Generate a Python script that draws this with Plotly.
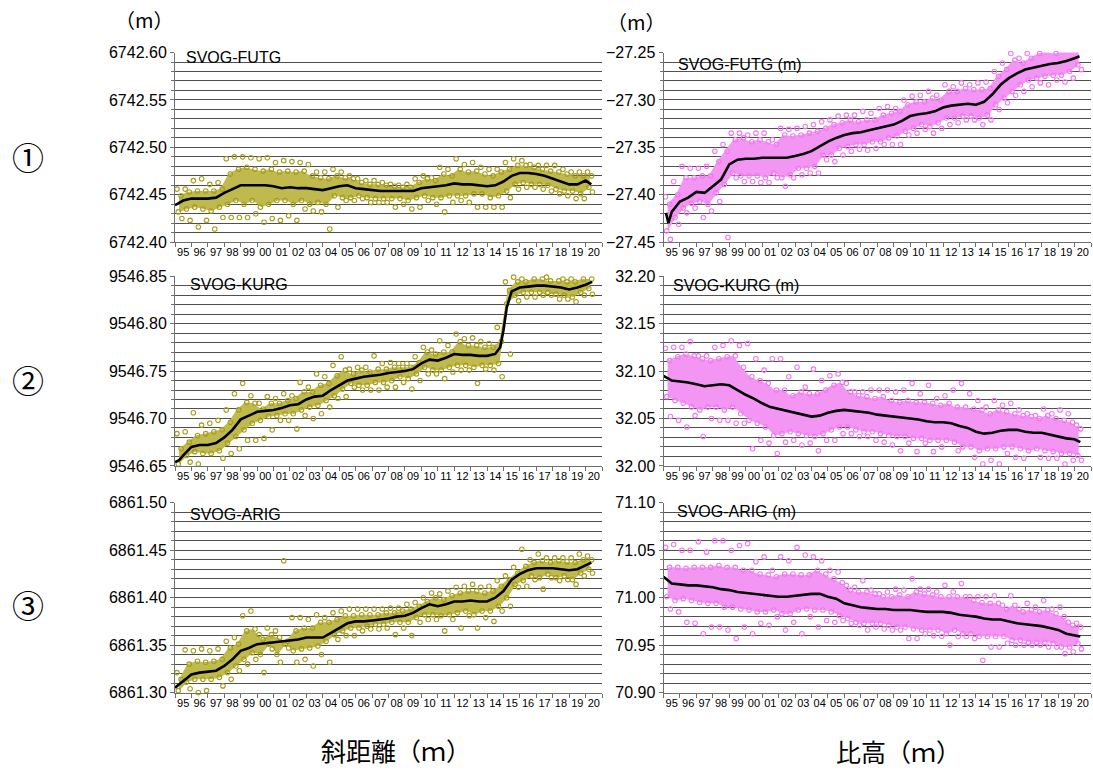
import plotly.graph_objects as go

# ---------------- data ----------------
YEAR_LABELS = ["95", "96", "97", "98", "99", "00", "01", "02", "03", "04", "05", "06", "07",
               "08", "09", "10", "11", "12", "13", "14", "15", "16", "17", "18", "19", "20"]
YEAR_CENTERS = [1995.5 + i for i in range(26)]
BIN_START = [1995.0 + 0.5 * i for i in range(51)]          # half-year bins
TREND_T = [1995.0 + 0.5 * i for i in range(51)] + [2020.35]

# ---- (1) SVOG-FUTG slant distance ----
LT_TREND = [6742.439, 6742.444, 6742.446, 6742.446, 6742.446, 6742.447, 6742.452, 6742.456, 6742.460, 6742.460,
            6742.460, 6742.460, 6742.459, 6742.457, 6742.458, 6742.457, 6742.457, 6742.456, 6742.455, 6742.457,
            6742.459, 6742.460, 6742.457, 6742.456, 6742.455, 6742.454, 6742.454, 6742.454, 6742.454, 6742.454,
            6742.457, 6742.458, 6742.459, 6742.460, 6742.462, 6742.461, 6742.461, 6742.460, 6742.459, 6742.460,
            6742.464, 6742.470, 6742.473, 6742.473, 6742.472, 6742.470, 6742.467, 6742.464, 6742.461, 6742.461,
            6742.465, 6742.461]
LT_EXT_HI = [6742.456, 6742.456, 6742.465, 6742.467, 6742.461, 6742.463, 6742.488, 6742.490, 6742.490, 6742.489,
             6742.488, 6742.489, 6742.484, 6742.486, 6742.485, 6742.484, 6742.482, 6742.474, 6742.474, 6742.477,
             6742.474, 6742.470, 6742.467, 6742.465, 6742.465, 6742.463, 6742.461, 6742.460, 6742.461, 6742.467,
             6742.470, 6742.468, 6742.479, 6742.477, 6742.488, 6742.482, 6742.484, 6742.479, 6742.477, 6742.477,
             6742.484, 6742.488, 6742.486, 6742.482, 6742.481, 6742.481, 6742.481, 6742.477, 6742.474, 6742.474,
             6742.474]
LT_CORE_HI = [6742.449, 6742.453, 6742.454, 6742.454, 6742.454, 6742.456, 6742.472, 6742.477, 6742.479, 6742.477,
              6742.475, 6742.477, 6742.474, 6742.475, 6742.474, 6742.475, 6742.470, 6742.468, 6742.467, 6742.470,
              6742.468, 6742.467, 6742.463, 6742.461, 6742.461, 6742.460, 6742.459, 6742.458, 6742.458, 6742.463,
              6742.467, 6742.465, 6742.472, 6742.470, 6742.477, 6742.474, 6742.475, 6742.472, 6742.470, 6742.474,
              6742.477, 6742.481, 6742.481, 6742.479, 6742.477, 6742.475, 6742.474, 6742.472, 6742.470, 6742.470,
              6742.470]
LT_CORE_LO = [6742.432, 6742.435, 6742.437, 6742.435, 6742.433, 6742.437, 6742.440, 6742.444, 6742.440, 6742.444,
              6742.437, 6742.440, 6742.444, 6742.444, 6742.440, 6742.444, 6742.440, 6742.442, 6742.440, 6742.449,
              6742.447, 6742.447, 6742.449, 6742.447, 6742.446, 6742.446, 6742.446, 6742.446, 6742.444, 6742.447,
              6742.449, 6742.447, 6742.447, 6742.449, 6742.449, 6742.449, 6742.451, 6742.451, 6742.447, 6742.449,
              6742.454, 6742.461, 6742.463, 6742.461, 6742.461, 6742.460, 6742.456, 6742.454, 6742.454, 6742.451,
              6742.458]
LT_EXT_LO = [6742.425, 6742.423, 6742.416, 6742.423, 6742.414, 6742.426, 6742.426, 6742.426, 6742.426, 6742.430,
             6742.421, 6742.425, 6742.423, 6742.428, 6742.423, 6742.435, 6742.433, 6742.432, 6742.414, 6742.437,
             6742.444, 6742.444, 6742.446, 6742.442, 6742.442, 6742.442, 6742.437, 6742.440, 6742.435, 6742.437,
             6742.444, 6742.440, 6742.432, 6742.442, 6742.444, 6742.442, 6742.437, 6742.437, 6742.437, 6742.437,
             6742.447, 6742.456, 6742.458, 6742.458, 6742.456, 6742.454, 6742.451, 6742.449, 6742.446, 6742.446,
             6742.453]

# ---- (2) SVOG-KURG slant distance ----
LM_TREND_T = [1995.0, 1995.25, 1995.5, 1996.0, 1996.5, 1997.0, 1997.5, 1998.0, 1998.5, 1999.0, 1999.5,
              2000.0, 2000.5, 2001.0, 2001.5, 2002.0, 2002.5, 2003.0, 2003.5, 2004.0, 2004.5,
              2005.0, 2005.5, 2006.0, 2006.5, 2007.0, 2007.5, 2008.0, 2008.5, 2009.0, 2009.5,
              2010.0, 2010.5, 2011.0, 2011.5, 2012.0, 2012.5, 2013.0, 2013.5, 2014.0, 2014.5,
              2014.8, 2015.0, 2015.2, 2015.5, 2016.0, 2016.5, 2017.0, 2017.5, 2018.0, 2018.5,
              2019.0, 2019.5, 2020.0, 2020.4]
LM_TREND = [9546.654, 9546.656, 9546.661, 9546.670, 9546.672, 9546.672, 9546.674, 9546.680, 9546.688, 9546.699,
            9546.703, 9546.707, 9546.708, 9546.709, 9546.711, 9546.714, 9546.715, 9546.720, 9546.723, 9546.724,
            9546.730, 9546.735, 9546.740, 9546.742, 9546.744, 9546.745, 9546.746, 9546.748, 9546.749, 9546.750,
            9546.752, 9546.758, 9546.762, 9546.761, 9546.764, 9546.768, 9546.767, 9546.767, 9546.766, 9546.766,
            9546.768, 9546.775, 9546.793, 9546.817, 9546.834, 9546.838, 9546.839, 9546.840, 9546.840, 9546.839,
            9546.838, 9546.836, 9546.838, 9546.841, 9546.844]
LM_EXT_HI = [9546.684, 9546.686, 9546.706, 9546.693, 9546.695, 9546.698, 9546.709, 9546.726, 9546.737, 9546.724,
             9546.716, 9546.723, 9546.721, 9546.726, 9546.724, 9546.738, 9546.733, 9546.747, 9546.744, 9546.756,
             9546.765, 9546.752, 9546.754, 9546.754, 9546.766, 9546.758, 9546.759, 9546.758, 9546.758, 9546.765,
             9546.775, 9546.772, 9546.782, 9546.777, 9546.789, 9546.784, 9546.785, 9546.781, 9546.779, 9546.796,
             9546.844, 9546.849, 9546.847, 9546.853, 9546.851, 9546.849, 9546.852, 9546.847, 9546.847, 9546.854,
             9546.851]
LM_CORE_HI = [9546.668, 9546.675, 9546.682, 9546.684, 9546.686, 9546.688, 9546.696, 9546.709, 9546.717, 9546.716,
              9546.710, 9546.716, 9546.716, 9546.719, 9546.721, 9546.728, 9546.728, 9546.735, 9546.737, 9546.745,
              9546.751, 9546.747, 9546.751, 9546.749, 9546.752, 9546.752, 9546.754, 9546.754, 9546.754, 9546.759,
              9546.770, 9546.768, 9546.770, 9546.770, 9546.781, 9546.777, 9546.777, 9546.775, 9546.775, 9546.781,
              9546.835, 9546.844, 9546.844, 9546.847, 9546.847, 9546.845, 9546.845, 9546.844, 9546.844, 9546.847,
              9546.847]
LM_CORE_LO = [9546.652, 9546.661, 9546.665, 9546.663, 9546.663, 9546.666, 9546.674, 9546.681, 9546.688, 9546.695,
              9546.698, 9546.702, 9546.703, 9546.705, 9546.705, 9546.709, 9546.712, 9546.714, 9546.719, 9546.724,
              9546.731, 9546.737, 9546.735, 9546.735, 9546.738, 9546.738, 9546.740, 9546.744, 9546.742, 9546.747,
              9546.754, 9546.751, 9546.751, 9546.754, 9546.756, 9546.756, 9546.754, 9546.756, 9546.756, 9546.758,
              9546.821, 9546.830, 9546.833, 9546.833, 9546.833, 9546.833, 9546.831, 9546.830, 9546.828, 9546.833,
              9546.837]
LM_EXT_LO = [9546.649, 9546.654, 9546.652, 9546.649, 9546.649, 9546.658, 9546.663, 9546.668, 9546.677, 9546.677,
             9546.679, 9546.688, 9546.698, 9546.698, 9546.689, 9546.703, 9546.700, 9546.705, 9546.712, 9546.721,
             9546.723, 9546.733, 9546.730, 9546.730, 9546.730, 9546.733, 9546.733, 9546.738, 9546.731, 9546.740,
             9546.747, 9546.747, 9546.742, 9546.749, 9546.751, 9546.751, 9546.737, 9546.752, 9546.751, 9546.744,
             9546.768, 9546.824, 9546.828, 9546.828, 9546.830, 9546.830, 9546.826, 9546.826, 9546.823, 9546.830,
             9546.831]

# ---- (3) SVOG-ARIG slant distance ----
LB_TREND = [6861.305, 6861.312, 6861.319, 6861.321, 6861.322, 6861.323, 6861.328, 6861.335, 6861.344, 6861.347,
            6861.351, 6861.352, 6861.353, 6861.354, 6861.355, 6861.356, 6861.358, 6861.358, 6861.358, 6861.363,
            6861.368, 6861.373, 6861.375, 6861.375, 6861.376, 6861.377, 6861.378, 6861.380, 6861.381, 6861.384,
            6861.389, 6861.393, 6861.391, 6861.393, 6861.396, 6861.396, 6861.397, 6861.396, 6861.396, 6861.400,
            6861.407, 6861.419, 6861.425, 6861.429, 6861.431, 6861.431, 6861.431, 6861.430, 6861.429, 6861.430,
            6861.434, 6861.437]
LB_EXT_HI = [6861.321, 6861.345, 6861.344, 6861.346, 6861.344, 6861.346, 6861.354, 6861.358, 6861.381, 6861.386,
             6861.361, 6861.368, 6861.365, 6861.439, 6861.379, 6861.379, 6861.377, 6861.382, 6861.379, 6861.384,
             6861.386, 6861.388, 6861.388, 6861.388, 6861.388, 6861.388, 6861.389, 6861.389, 6861.393, 6861.395,
             6861.400, 6861.405, 6861.404, 6861.407, 6861.411, 6861.412, 6861.414, 6861.411, 6861.412, 6861.418,
             6861.423, 6861.432, 6861.451, 6861.440, 6861.446, 6861.442, 6861.442, 6861.442, 6861.442, 6861.446,
             6861.444]
LB_CORE_HI = [6861.314, 6861.330, 6861.333, 6861.332, 6861.333, 6861.335, 6861.347, 6861.351, 6861.365, 6861.367,
              6861.356, 6861.361, 6861.358, 6861.354, 6861.365, 6861.368, 6861.368, 6861.374, 6861.374, 6861.377,
              6861.381, 6861.381, 6861.382, 6861.382, 6861.382, 6861.384, 6861.384, 6861.386, 6861.388, 6861.391,
              6861.396, 6861.400, 6861.398, 6861.402, 6861.405, 6861.407, 6861.407, 6861.405, 6861.407, 6861.412,
              6861.419, 6861.426, 6861.433, 6861.437, 6861.439, 6861.437, 6861.439, 6861.438, 6861.437, 6861.440,
              6861.440]
LB_CORE_LO = [6861.302, 6861.311, 6861.314, 6861.314, 6861.314, 6861.316, 6861.321, 6861.328, 6861.335, 6861.342,
              6861.340, 6861.351, 6861.340, 6861.351, 6861.344, 6861.346, 6861.347, 6861.349, 6861.354, 6861.361,
              6861.365, 6861.368, 6861.368, 6861.370, 6861.372, 6861.372, 6861.374, 6861.374, 6861.374, 6861.379,
              6861.382, 6861.382, 6861.381, 6861.382, 6861.384, 6861.386, 6861.382, 6861.386, 6861.386, 6861.391,
              6861.400, 6861.414, 6861.418, 6861.423, 6861.421, 6861.425, 6861.421, 6861.423, 6861.419, 6861.426,
              6861.430]
LB_EXT_LO = [6861.298, 6861.304, 6861.300, 6861.302, 6861.298, 6861.307, 6861.314, 6861.323, 6861.330, 6861.335,
             6861.321, 6861.346, 6861.332, 6861.347, 6861.332, 6861.335, 6861.328, 6861.340, 6861.332, 6861.356,
             6861.360, 6861.360, 6861.365, 6861.367, 6861.367, 6861.368, 6861.361, 6861.368, 6861.360, 6861.374,
             6861.377, 6861.377, 6861.365, 6861.377, 6861.368, 6861.381, 6861.368, 6861.379, 6861.375, 6861.386,
             6861.391, 6861.411, 6861.412, 6861.419, 6861.409, 6861.421, 6861.418, 6861.419, 6861.414, 6861.423,
             6861.426]

# ---- (1) SVOG-FUTG height difference ----
RT_TREND_T = [1995.15, 1995.3, 1995.5] + [1996.0 + 0.5 * i for i in range(49)] + [2020.3]
RT_TREND = [-27.419, -27.430, -27.418,
            -27.407, -27.403, -27.397, -27.398, -27.391, -27.384, -27.368, -27.363,
            -27.362, -27.362, -27.361, -27.361, -27.361, -27.361, -27.359, -27.357, -27.354, -27.349,
            -27.344, -27.340, -27.337, -27.335, -27.334, -27.332, -27.330, -27.328, -27.326, -27.322,
            -27.317, -27.315, -27.314, -27.312, -27.308, -27.306, -27.305, -27.304, -27.305, -27.302,
            -27.294, -27.284, -27.277, -27.272, -27.268, -27.266, -27.264, -27.262, -27.261, -27.259,
            -27.256, -27.254]
RT_EXT_HI = [-27.402, -27.386, -27.370, -27.372, -27.372, -27.370, -27.354, -27.347, -27.335, -27.335,
             -27.337, -27.335, -27.335, -27.342, -27.330, -27.331, -27.330, -27.328, -27.326, -27.323,
             -27.321, -27.317, -27.316, -27.316, -27.312, -27.314, -27.309, -27.307, -27.309, -27.300,
             -27.296, -27.295, -27.291, -27.295, -27.284, -27.286, -27.282, -27.284, -27.282, -27.281,
             -27.270, -27.261, -27.251, -27.256, -27.251, -27.244, -27.242, -27.245, -27.242, -27.244,
             -27.244]
RT_CORE_HI = [-27.410, -27.400, -27.382, -27.382, -27.380, -27.380, -27.365, -27.354, -27.342, -27.340,
              -27.344, -27.342, -27.344, -27.347, -27.337, -27.338, -27.337, -27.335, -27.333, -27.330,
              -27.326, -27.324, -27.321, -27.323, -27.321, -27.321, -27.316, -27.314, -27.312, -27.305,
              -27.302, -27.302, -27.298, -27.300, -27.291, -27.291, -27.288, -27.289, -27.289, -27.288,
              -27.275, -27.268, -27.258, -27.261, -27.256, -27.251, -27.249, -27.251, -27.249, -27.247,
              -27.247]
RT_CORE_LO = [-27.438, -27.424, -27.414, -27.409, -27.407, -27.410, -27.398, -27.389, -27.377, -27.380,
              -27.380, -27.380, -27.382, -27.377, -27.382, -27.379, -27.372, -27.372, -27.370, -27.358,
              -27.358, -27.351, -27.349, -27.347, -27.347, -27.344, -27.344, -27.340, -27.338, -27.333,
              -27.330, -27.326, -27.328, -27.324, -27.319, -27.319, -27.317, -27.317, -27.319, -27.316,
              -27.305, -27.298, -27.291, -27.284, -27.279, -27.277, -27.275, -27.274, -27.274, -27.270,
              -27.263]
RT_EXT_LO = [-27.447, -27.431, -27.419, -27.414, -27.424, -27.417, -27.407, -27.445, -27.382, -27.386,
             -27.386, -27.387, -27.387, -27.382, -27.391, -27.382, -27.379, -27.377, -27.377, -27.363,
             -27.365, -27.358, -27.354, -27.352, -27.353, -27.351, -27.347, -27.347, -27.347, -27.337,
             -27.335, -27.331, -27.335, -27.330, -27.326, -27.324, -27.321, -27.321, -27.326, -27.321,
             -27.310, -27.303, -27.295, -27.291, -27.286, -27.282, -27.284, -27.279, -27.281, -27.277,
             -27.268]

# ---- (2) SVOG-KURG height difference ----
RM_TREND = [32.095, 32.090, 32.089, 32.088, 32.086, 32.084, 32.085, 32.086, 32.085, 32.080,
            32.075, 32.071, 32.066, 32.062, 32.060, 32.058, 32.056, 32.054, 32.052, 32.053,
            32.056, 32.058, 32.059, 32.058, 32.057, 32.056, 32.054, 32.053, 32.052, 32.051,
            32.050, 32.049, 32.047, 32.046, 32.046, 32.045, 32.042, 32.040, 32.036, 32.034,
            32.035, 32.037, 32.038, 32.038, 32.036, 32.035, 32.035, 32.033, 32.031, 32.029,
            32.028, 32.025]
RM_EXT_HI = [32.124, 32.125, 32.125, 32.131, 32.116, 32.116, 32.125, 32.127, 32.132, 32.127,
             32.129, 32.113, 32.101, 32.113, 32.113, 32.094, 32.104, 32.083, 32.102, 32.090,
             32.095, 32.097, 32.087, 32.078, 32.078, 32.080, 32.080, 32.080, 32.078, 32.080,
             32.087, 32.076, 32.085, 32.071, 32.074, 32.080, 32.087, 32.076, 32.069, 32.062,
             32.069, 32.064, 32.066, 32.059, 32.055, 32.053, 32.060, 32.055, 32.059, 32.055,
             32.043]
RM_CORE_HI = [32.111, 32.115, 32.118, 32.116, 32.113, 32.111, 32.113, 32.115, 32.116, 32.104,
              32.094, 32.090, 32.087, 32.080, 32.080, 32.074, 32.078, 32.076, 32.076, 32.080,
              32.085, 32.088, 32.078, 32.074, 32.073, 32.071, 32.073, 32.069, 32.067, 32.069,
              32.067, 32.067, 32.066, 32.064, 32.066, 32.062, 32.062, 32.060, 32.059, 32.055,
              32.059, 32.057, 32.055, 32.053, 32.052, 32.050, 32.053, 32.050, 32.048, 32.046,
              32.039]
RM_CORE_LO = [32.073, 32.069, 32.066, 32.062, 32.059, 32.062, 32.062, 32.059, 32.062, 32.055,
              32.048, 32.045, 32.041, 32.032, 32.034, 32.036, 32.034, 32.032, 32.031, 32.034,
              32.038, 32.041, 32.041, 32.038, 32.036, 32.036, 32.034, 32.032, 32.031, 32.031,
              32.029, 32.029, 32.027, 32.027, 32.027, 32.025, 32.020, 32.020, 32.016, 32.018,
              32.018, 32.020, 32.020, 32.018, 32.016, 32.018, 32.016, 32.015, 32.013, 32.013,
              32.011]
RM_EXT_LO = [32.052, 32.048, 32.041, 32.053, 32.031, 32.050, 32.048, 32.048, 32.045, 32.045,
             32.018, 32.027, 32.024, 32.013, 32.025, 32.027, 32.022, 32.024, 32.016, 32.027,
             32.027, 32.034, 32.034, 32.031, 32.031, 32.027, 32.025, 32.022, 32.016, 32.024,
             32.015, 32.024, 32.015, 32.020, 31.999, 32.016, 31.999, 32.009, 32.002, 32.006,
             32.002, 32.013, 32.009, 32.008, 31.995, 32.009, 32.008, 32.008, 32.002, 32.006,
             32.006]

# ---- (3) SVOG-ARIG height difference ----
RB_TREND = [71.022, 71.015, 71.014, 71.013, 71.013, 71.012, 71.011, 71.009, 71.008, 71.006,
            71.005, 71.004, 71.003, 71.002, 71.001, 71.001, 71.002, 71.003, 71.004, 71.004,
            71.001, 70.999, 70.994, 70.992, 70.990, 70.989, 70.988, 70.988, 70.987, 70.987,
            70.987, 70.986, 70.985, 70.985, 70.985, 70.984, 70.982, 70.981, 70.980, 70.978,
            70.977, 70.977, 70.975, 70.973, 70.972, 70.971, 70.970, 70.968, 70.966, 70.962,
            70.960, 70.959]
RB_EXT_HI = [71.053, 71.056, 71.050, 71.050, 71.059, 71.048, 71.060, 71.060, 71.050, 71.055,
             71.057, 71.038, 71.043, 71.029, 71.043, 71.039, 71.053, 71.045, 71.043, 71.039,
             71.029, 71.027, 71.013, 71.011, 71.018, 71.008, 71.004, 71.006, 71.009, 71.008,
             71.020, 71.009, 71.009, 71.006, 71.013, 71.006, 71.015, 71.001, 71.001, 71.001,
             71.002, 70.992, 71.002, 70.988, 70.994, 70.990, 70.997, 70.988, 70.990, 70.974,
             70.973]
RB_CORE_HI = [71.032, 71.032, 71.031, 71.032, 71.032, 71.032, 71.034, 71.032, 71.032, 71.029,
              71.029, 71.025, 71.024, 71.022, 71.025, 71.025, 71.024, 71.024, 71.029, 71.025,
              71.020, 71.016, 71.008, 71.006, 71.006, 71.004, 71.001, 71.001, 71.003, 71.001,
              71.006, 71.004, 71.003, 71.001, 71.001, 71.001, 71.001, 70.997, 70.995, 70.994,
              70.994, 70.988, 70.992, 70.985, 70.987, 70.985, 70.987, 70.983, 70.980, 70.971,
              70.969]
RB_CORE_LO = [71.001, 70.997, 70.999, 70.997, 70.995, 70.994, 70.994, 70.990, 70.990, 70.988,
              70.987, 70.985, 70.985, 70.987, 70.983, 70.983, 70.987, 70.988, 70.987, 70.987,
              70.985, 70.981, 70.978, 70.974, 70.973, 70.973, 70.973, 70.971, 70.969, 70.969,
              70.967, 70.966, 70.966, 70.966, 70.962, 70.966, 70.962, 70.962, 70.959, 70.959,
              70.959, 70.959, 70.955, 70.955, 70.953, 70.953, 70.953, 70.952, 70.948, 70.948,
              70.952]
RB_EXT_LO = [70.988, 70.985, 70.974, 70.973, 70.962, 70.969, 70.969, 70.966, 70.957, 70.969,
             70.962, 70.973, 70.971, 70.980, 70.966, 70.974, 70.962, 70.980, 70.969, 70.976,
             70.974, 70.976, 70.973, 70.971, 70.966, 70.969, 70.967, 70.966, 70.966, 70.957,
             70.957, 70.962, 70.960, 70.959, 70.950, 70.959, 70.959, 70.957, 70.934, 70.948,
             70.948, 70.952, 70.950, 70.950, 70.950, 70.950, 70.948, 70.948, 70.941, 70.943,
             70.946]

PANEL_LABELS = ["SVOG-FUTG", "SVOG-KURG", "SVOG-ARIG",
                "SVOG-FUTG (m)", "SVOG-KURG (m)", "SVOG-ARIG (m)"]
Y_BOTTOMS = [6742.40, 9546.65, 6861.30, -27.45, 32.00, 70.90]

# ---------------- styling / layout ----------------
W, H = 1093, 772
FONT = "Arial, 'Liberation Sans', sans-serif"
CJK = "'Noto Sans CJK JP', 'Noto Sans CJK SC', sans-serif"
OLIVE, OLIVE_BAND = "rgb(165,156,24)", "rgb(192,185,78)"
PINK, PINK_BAND = "rgb(242,118,242)", "rgb(243,150,243)"
GRID = "#505050"
AXIS = "#707070"


def py_to_paper(py):
    # target pixel row -> paper coordinate (compensates the page's vertical fit)
    return 1 - ((py - 8.4) / 0.9795) / H


X_DOMS = [[175 / W, 602 / W], [663.5 / W, 1091 / W]]
ROW_PX = [(53, 243), (277, 467), (504, 694)]
Y_DOMS = [[py_to_paper(b), py_to_paper(t)] for (t, b) in ROW_PX]
LABEL_PX = [(184, 58), (188, 285.5), (188, 515.5), (676, 65), (671, 286.5), (675, 513)]

panels = [
    dict(trend_t=TREND_T, trend=LT_TREND, eh=LT_EXT_HI, ch=LT_CORE_HI, cl=LT_CORE_LO, el=LT_EXT_LO),
    dict(trend_t=LM_TREND_T, trend=LM_TREND, eh=LM_EXT_HI, ch=LM_CORE_HI, cl=LM_CORE_LO, el=LM_EXT_LO),
    dict(trend_t=TREND_T, trend=LB_TREND, eh=LB_EXT_HI, ch=LB_CORE_HI, cl=LB_CORE_LO, el=LB_EXT_LO),
    dict(trend_t=RT_TREND_T, trend=RT_TREND, eh=RT_EXT_HI, ch=RT_CORE_HI, cl=RT_CORE_LO, el=RT_EXT_LO),
    dict(trend_t=TREND_T, trend=RM_TREND, eh=RM_EXT_HI, ch=RM_CORE_HI, cl=RM_CORE_LO, el=RM_EXT_LO),
    dict(trend_t=TREND_T, trend=RB_TREND, eh=RB_EXT_HI, ch=RB_CORE_HI, cl=RB_CORE_LO, el=RB_EXT_LO),
]

fig = go.Figure()
layout = dict(width=W, height=H, margin=dict(l=0, r=0, t=0, b=0),
              paper_bgcolor="white", plot_bgcolor="white", showlegend=False,
              font=dict(family=FONT, color="black"))
annotations = []

for i, p in enumerate(panels):
    col, row = i // 3, i % 3
    n = i + 1
    xa, ya = ("x" if n == 1 else f"x{n}"), ("y" if n == 1 else f"y{n}")
    color, band = (OLIVE, OLIVE_BAND) if col == 0 else (PINK, PINK_BAND)
    mids = [t + 0.25 for t in BIN_START]
    # dense core of the cloud
    fig.add_trace(go.Scatter(x=mids + mids[::-1], y=p["ch"] + p["cl"][::-1], fill="toself",
                             fillcolor=band, line=dict(width=0), mode="lines",
                             hoverinfo="skip", xaxis=xa, yaxis=ya))
    # individual observations
    xs, ys = [], []
    for off, key in ((0.12, "eh"), (0.37, "ch"), (0.2, "cl"), (0.42, "el")):
        xs += [t + off for t in BIN_START]
        ys += p[key]
    fig.add_trace(go.Scatter(x=xs, y=ys, mode="markers", cliponaxis=False,
                             marker=dict(symbol="circle-open", size=4.5, color=color,
                                         line=dict(width=1.1, color=color)),
                             xaxis=xa, yaxis=ya))
    # trend line
    fig.add_trace(go.Scatter(x=p["trend_t"], y=p["trend"], mode="lines",
                             line=dict(color="black", width=2.6), xaxis=xa, yaxis=ya))

    lo = Y_BOTTOMS[i]
    xkey = "xaxis" if n == 1 else f"xaxis{n}"
    ykey = "yaxis" if n == 1 else f"yaxis{n}"
    layout[xkey] = dict(domain=X_DOMS[col], anchor=ya, range=[1995, 2021],
                        showgrid=False, zeroline=False, showline=True, linecolor=AXIS, linewidth=1,
                        tickmode="array", tickvals=YEAR_CENTERS, ticktext=YEAR_LABELS,
                        ticks="", tickfont=dict(size=11, color="black"),
                        minor=dict(ticks="outside", ticklen=4, tickcolor=AXIS, dtick=1, tick0=1995,
                                   showgrid=False))
    layout[ykey] = dict(domain=Y_DOMS[row], anchor=xa, range=[lo, lo + 0.2],
                        showgrid=True, gridcolor=GRID, gridwidth=1, zeroline=False,
                        showline=True, linecolor=AXIS, linewidth=1,
                        tickmode="linear", tick0=lo, dtick=0.05, tickformat=".2f",
                        ticks="outside", ticklen=4, tickcolor=AXIS,
                        tickfont=dict(size=16, color="black"),
                        minor=dict(ticks="outside", ticklen=3, tickcolor=AXIS, dtick=0.01, tick0=lo,
                                   showgrid=True, gridcolor=GRID, gridwidth=1))
    lx, ly = LABEL_PX[i]
    annotations.append(dict(x=lx / W, y=py_to_paper(ly), xref="paper", yref="paper", xanchor="left",
                            yanchor="middle", text=PANEL_LABELS[i], showarrow=False,
                            font=dict(size=16, family=FONT, color="black")))

for txt, (px, py) in zip(["①", "②", "③"], [(28, 157), (28, 380), (28, 605)]):
    annotations.append(dict(x=px / W, y=py_to_paper(py), xref="paper", yref="paper", text=txt,
                            xanchor="center", yanchor="middle",
                            showarrow=False, font=dict(size=32, family=CJK, color="black")))
for px, py in [(144, 20), (636, 22)]:
    annotations.append(dict(x=px / W, y=py_to_paper(py), xref="paper", yref="paper", text="（m）",
                            xanchor="center", yanchor="middle",
                            showarrow=False, font=dict(size=20, family=CJK, color="black")))
for txt, (px, py) in zip(["斜距離（ｍ）", "比高（ｍ）"], [(396, 752), (898, 753)]):
    annotations.append(dict(x=px / W, y=py_to_paper(py), xref="paper", yref="paper", text=txt,
                            xanchor="center", yanchor="middle",
                            showarrow=False, font=dict(size=25, family=CJK, color="black")))

layout["annotations"] = annotations
fig.update_layout(**layout)
fig.write_html("out.html")
